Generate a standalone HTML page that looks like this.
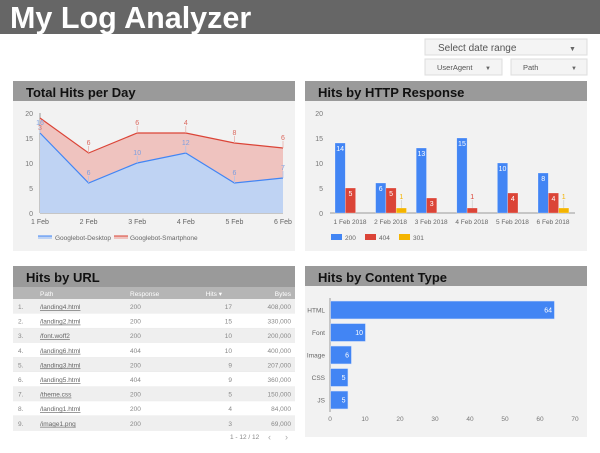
<!DOCTYPE html>
<html><head><meta charset="utf-8">
<style>
body{margin:0;width:600px;height:448px;overflow:hidden;background:#fff;font-family:"Liberation Sans",sans-serif;}
svg text{font-family:"Liberation Sans",sans-serif;}
</style></head><body>
<svg id="s" width="600" height="448" xmlns="http://www.w3.org/2000/svg">
<rect x="0" y="0" width="600" height="34" fill="#666"/>
<text x="10" y="28" font-size="30.5" font-weight="bold" fill="#fff">My Log Analyzer</text>

<g>
<rect x="425" y="39" width="162" height="16" fill="#f4f4f4" stroke="#ddd"/>
<text x="438" y="51" font-size="10" fill="#555">Select date range</text>
<text x="569" y="51" font-size="7" fill="#666">▼</text></g>
<g>
<rect x="425" y="59" width="77" height="16" fill="#f4f4f4" stroke="#ddd"/>
<text x="437" y="70" font-size="7.5" fill="#555">UserAgent</text>
<text x="485" y="70" font-size="6" fill="#666">▼</text></g>
<g>
<rect x="511" y="59" width="76" height="16" fill="#f4f4f4" stroke="#ddd"/>
<text x="523" y="70" font-size="7.5" fill="#555">Path</text>
<text x="571" y="70" font-size="6" fill="#666">▼</text></g>

<g>
<rect x="13" y="81" width="282" height="170" fill="#f2f2f2"/>
<rect x="13" y="81" width="282" height="20" fill="#9a9a9a"/>
<text x="26" y="97" font-size="13" font-weight="bold" fill="#111">Total Hits per Day</text></g>
<g>
<rect x="305" y="81" width="282" height="170" fill="#f2f2f2"/>
<rect x="305" y="81" width="282" height="20" fill="#9a9a9a"/>
<text x="318" y="97" font-size="13" font-weight="bold" fill="#111">Hits by HTTP Response</text></g>
<g>
<rect x="13" y="266" width="282" height="21" fill="#9a9a9a"/>
<text x="26" y="282" font-size="13" font-weight="bold" fill="#111">Hits by URL</text>
<rect x="13" y="287" width="282" height="12" fill="#b5b5b5"/></g>
<g>
<rect x="305" y="266" width="282" height="171" fill="#f2f2f2"/>
<rect x="305" y="266" width="282" height="20" fill="#9a9a9a"/>
<text x="318" y="282" font-size="13" font-weight="bold" fill="#111">Hits by Content Type</text></g>
<g id="c1"></g><g id="c2"></g><g id="c3"></g><g id="c4"></g>
</svg>
<script>
const days=["1 Feb","2 Feb","3 Feb","4 Feb","5 Feb","6 Feb"];
const desktop=[16,6,10,12,6,7];
const smartphone=[3,6,6,4,8,6];
const yTicks=[0,5,10,15,20];
const respDays=["1 Feb 2018","2 Feb 2018","3 Feb 2018","4 Feb 2018","5 Feb 2018","6 Feb 2018"];
const r200=[14,6,13,15,10,8];
const r404=[5,5,3,1,4,4];
const r301=[0,1,0,0,0,1];
const types=["HTML","Font","Image","CSS","JS"];
const typeHits=[64,10,6,5,5];
const xTicks=[0,10,20,30,40,50,60,70];
const paths=["/landing4.html","/landing2.html","/font.woff2","/landing6.html","/landing3.html","/landing5.html","/theme.css","/landing1.html","/image1.png"];
const responses=["200","200","200","404","200","404","200","200","200"];
const hits=[17,15,10,10,9,9,5,4,3];
const bytes=["408,000","330,000","200,000","400,000","207,000","360,000","150,000","84,000","69,000"];
const NS="http://www.w3.org/2000/svg";
function el(p,t,a,txt){const e=document.createElementNS(NS,t);for(const k in a)e.setAttribute(k,a[k]);if(txt!==undefined)e.textContent=txt;p.appendChild(e);return e;}
// chart1
(function(){const g=document.getElementById('c1');
const x=i=>40+i*(243/5), y=v=>213-v*5;
yTicks.forEach(t=>{const e=el(g,'text',{x:33,y:y(t)+3,'font-size':7,fill:'#777','text-anchor':'end'},t);

});
el(g,'line',{x1:40,y1:113,x2:40,y2:213,stroke:'#999','stroke-width':1});
el(g,'line',{x1:40,y1:213,x2:283,y2:213,stroke:'#999','stroke-width':1});
const tot=desktop.map((d,i)=>d+smartphone[i]);
let top=days.map((_,i)=>x(i)+','+y(tot[i])).join(' ');
let mid=days.map((_,i)=>x(i)+','+y(desktop[i])).join(' ');
let midR=days.map((_,i)=>x(i)+','+y(desktop[i])).reverse().join(' ');
const a2=el(g,'polygon',{points:top+' '+midR,fill:'#efc3bf'});


const a1=el(g,'polygon',{points:mid+' '+x(5)+','+y(0)+' '+x(0)+','+y(0),fill:'#bfd3f3'});


const l2=el(g,'polyline',{points:top,fill:'none',stroke:'#db4437','stroke-width':1.2});


const l1=el(g,'polyline',{points:mid,fill:'none',stroke:'#4285f4','stroke-width':1.2});


days.forEach((d,i)=>{const e=el(g,'text',{x:x(i),y:224,'font-size':7,fill:'#666','text-anchor':'middle'},d);


const first=i===0;
const sy=first?y(tot[i])+12:y(tot[i])-8;
if(!first)el(g,'line',{x1:x(i),y1:y(tot[i]),x2:x(i),y2:y(tot[i])-7,stroke:'#e6a8a2','stroke-width':0.7});
const t2=el(g,'text',{x:x(i),y:sy,'font-size':7,fill:'#db6a60','text-anchor':'middle'},smartphone[i]);


el(g,'line',{x1:x(i),y1:y(desktop[i]),x2:x(i),y2:y(desktop[i])-7,stroke:'#a9c2ee','stroke-width':0.7});
const t1=el(g,'text',{x:x(i),y:y(desktop[i])-8,'font-size':7,fill:'#7d9fe0','text-anchor':'middle'},desktop[i]);

});
const lg=el(g,'g',{});
el(lg,'rect',{x:38,y:236,width:14,height:3,fill:'#bfd3f3'});el(lg,'line',{x1:38,y1:236,x2:52,y2:236,stroke:'#4285f4'});
el(lg,'text',{x:55,y:240,'font-size':6.5,fill:'#666'},'Googlebot-Desktop');
el(lg,'rect',{x:114,y:236,width:14,height:3,fill:'#efc3bf'});el(lg,'line',{x1:114,y1:236,x2:128,y2:236,stroke:'#db4437'});
el(lg,'text',{x:130,y:240,'font-size':6.5,fill:'#666'},'Googlebot-Smartphone');})();
// chart2
(function(){const g=document.getElementById('c2');
const y=v=>213-v*5, gx=i=>335+i*40.6, bw=10.3;
yTicks.forEach(t=>{const e=el(g,'text',{x:323,y:y(t)+3,'font-size':7,fill:'#777','text-anchor':'end'},t);

});
el(g,'line',{x1:330,y1:213,x2:575,y2:213,stroke:'#999'});
const series=[[r200,'#4285f4','bar-200'],[r404,'#db4437','bar-404'],[r301,'#f4b400','bar-301']];
respDays.forEach((d,i)=>{const e=el(g,'text',{x:gx(i)+15,y:224,'font-size':6.5,fill:'#666','text-anchor':'middle'},d);


series.forEach((s,k)=>{const v=s[0][i];if(!v)return;const bx=gx(i)+k*bw;
const r=el(g,'rect',{x:bx,y:y(v),width:bw,height:v*5,fill:s[1],stroke:'#fff','stroke-opacity':0.5,'stroke-width':0.5});


if(v>=3){el(g,'text',{x:bx+bw/2,y:y(v)+8,'font-size':7,fill:'#fff','text-anchor':'middle'},v);}
else{el(g,'line',{x1:bx+bw/2,y1:y(v),x2:bx+bw/2,y2:y(v)-8,stroke:'#ccc','stroke-width':0.7});
el(g,'text',{x:bx+bw/2,y:y(v)-9,'font-size':7,fill:s[1],'text-anchor':'middle'},v);}});});
const lg=el(g,'g',{});
[['200','#4285f4',331],['404','#db4437',365],['301','#f4b400',399]].forEach(l=>{el(lg,'rect',{x:l[2],y:234,width:11,height:6,fill:l[1]});
el(lg,'text',{x:l[2]+14,y:240,'font-size':6.5,fill:'#666'},l[0]);});})();
// chart4
(function(){const g=document.getElementById('c4');
const x=v=>330+v*3.5, cy=i=>310+i*22.5;
xTicks.forEach(t=>{const e=el(g,'text',{x:x(t),y:421,'font-size':6.5,fill:'#777','text-anchor':'middle'},t);

});
el(g,'line',{x1:330,y1:298,x2:330,y2:412,stroke:'#999'});
types.forEach((t,i)=>{const e=el(g,'text',{x:325,y:cy(i)+2.5,'font-size':6.5,fill:'#666','text-anchor':'end'},t);


const r=el(g,'rect',{x:330.5,y:cy(i)-9,width:typeHits[i]*3.5,height:18,fill:'#4285f4',stroke:'#dde6f7','stroke-width':0.6});


el(g,'text',{x:x(typeHits[i])-2,y:cy(i)+2.5,'font-size':7,fill:'#fff','text-anchor':'end'},typeHits[i]);});})();
// table
(function(){const g=document.getElementById('c3');
const h=[['Path',40,'start'],['Response',130,'start'],['Hits ▾',222,'end'],['Bytes',291,'end']];
h.forEach(c=>{const e=el(g,'text',{x:c[1],y:296,'font-size':6.5,fill:'#fff','text-anchor':c[2]},c[0]);

});
const rh=14.6;
paths.forEach((p,i)=>{const ry=299+i*rh, ty=ry+10;
const row=el(g,'g',{});
el(row,'rect',{x:13,y:ry,width:282,height:rh,fill:i%2?'#fff':'#efefef'});
el(row,'line',{x1:13,y1:ry+rh,x2:295,y2:ry+rh,stroke:'#e4e4e4','stroke-width':0.5});
el(row,'text',{x:18,y:ty,'font-size':6.5,fill:'#888'},(i+1)+'.');
const a=el(row,'text',{x:40,y:ty,'font-size':6.5,fill:'#666','text-decoration':'underline'},p);


el(row,'text',{x:130,y:ty,'font-size':6.5,fill:'#888'},responses[i]);
el(row,'text',{x:232,y:ty,'font-size':6.5,fill:'#888','text-anchor':'end'},hits[i]);
el(row,'text',{x:291,y:ty,'font-size':6.5,fill:'#888','text-anchor':'end'},bytes[i]);});
const pg=el(g,'text',{x:230,y:439,'font-size':6.5,fill:'#888'},'1 - 12 / 12');

const pv=el(g,'text',{x:268,y:440,'font-size':9,fill:'#aaa'},'‹');

const nx=el(g,'text',{x:285,y:440,'font-size':9,fill:'#aaa'},'›');
})();
</script>
</body></html>
